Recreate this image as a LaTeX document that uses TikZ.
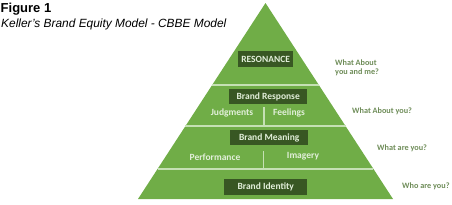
\documentclass[tikz,border=0pt]{standalone}
\usepackage{fontspec}
\setmainfont{Liberation Sans}
\newfontfamily\calib{Carlito}
\usetikzlibrary{calc}
\definecolor{pyrgreen}{RGB}{112,173,71}
\definecolor{boxgreen}{RGB}{56,87,35}
\definecolor{linegreen}{RGB}{197,224,180}
\definecolor{lighttext}{RGB}{226,239,218}
\definecolor{qgreen}{RGB}{110,140,88}
\tikzset{
  levelbox/.style={fill=boxgreen, text=lighttext, font=\calib\bfseries\fontsize{9.5}{11}\selectfont, inner sep=0pt, anchor=north west},
  facet/.style={text=lighttext, font=\calib\bfseries\fontsize{9.5}{11}\selectfont, inner sep=0pt},
  question/.style={text=qgreen, font=\calib\bfseries\fontsize{8.2}{10}\selectfont, inner sep=0pt, anchor=west, align=left},
  divider/.style={draw=linegreen, line width=1.3pt},
}
\begin{document}
\begin{tikzpicture}[x=1pt,y=-1pt]
\useasboundingbox (0,0) rectangle (452,204);
% title
\node[anchor=base west, inner sep=0pt, font=\bfseries\fontsize{13}{15}\selectfont] (fig) at (0.5,12) {Figure 1};
\node[anchor=base west, inner sep=0pt, font=\itshape\fontsize{11.9}{14}\selectfont] (sub) at (1,27) {Keller’s Brand Equity Model - CBBE Model};
% pyramid
\coordinate (apex) at (265.5,3);
\coordinate (bl) at (138,199);
\coordinate (br) at (393,199);
\fill[pyrgreen] (apex) -- (bl) -- (br) -- cycle;
% horizontal dividers
\draw[divider] ($(apex)!0.418!(bl)$) coordinate (l1a) -- ($(apex)!0.418!(br)$) coordinate (l1b);
\draw[divider] ($(apex)!0.628!(bl)$) coordinate (l2a) -- ($(apex)!0.628!(br)$) coordinate (l2b);
\draw[divider] ($(apex)!0.847!(bl)$) coordinate (l3a) -- ($(apex)!0.847!(br)$) coordinate (l3b);
% level boxes
\node[levelbox, minimum width=55pt, minimum height=16pt] (res) at (238,51) {RESONANCE};
\node[levelbox, minimum width=78pt, minimum height=15pt] (resp) at (229,89) {Brand Response};
\node[levelbox, minimum width=78pt, minimum height=15pt] (mean) at (230,130) {Brand Meaning};
\node[levelbox, minimum width=83pt, minimum height=16pt] (ident) at (224,179) {Brand Identity};
% facets
\node[facet] (judg) at (232,113) {Judgments};
\node[facet] (feel) at (289,112.5) {Feelings};
\node[facet] (perf) at (215,157.5) {Performance};
\node[facet] (imag) at (303,156.5) {Imagery};
% vertical dividers
\coordinate (v1t) at (264,107);
\coordinate (v1b) at (264,125);
\coordinate (v2t) at (263.5,151);
\coordinate (v2b) at (263.5,168);
\draw[divider] (v1t) -- (v1b);
\draw[divider] (v2t) -- (v2b);
% questions
\node[question] (q1) at (335,68) {What About\\[-1pt]you and me?};
\node[question] (q2) at (352,111) {What About you?};
\node[question] (q3) at (377,148.5) {What are you?};
\node[question] (q4) at (402,186.5) {Who are you?};
\end{tikzpicture}
\end{document}
